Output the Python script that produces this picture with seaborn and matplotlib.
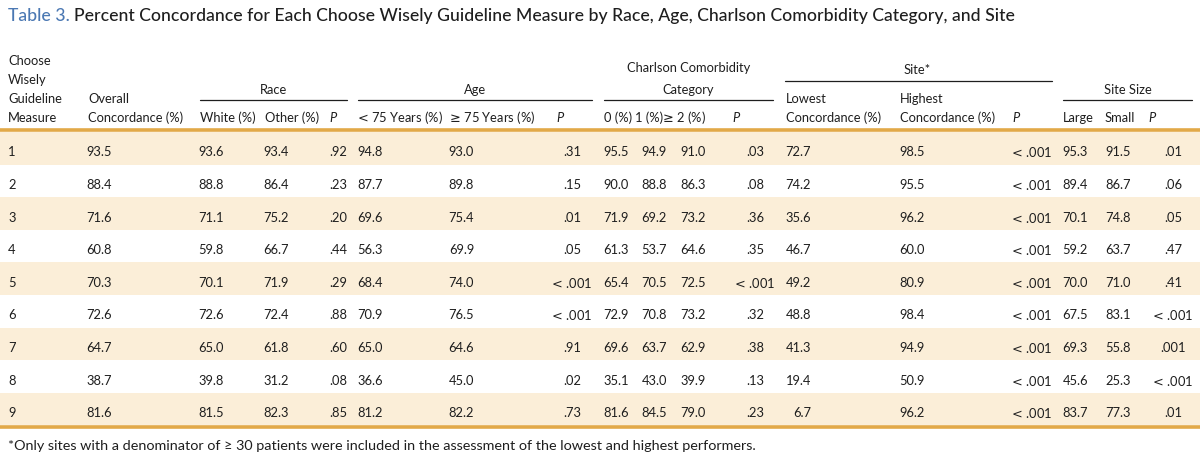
import matplotlib
matplotlib.use("Agg")
import matplotlib.pyplot as plt
import seaborn as sns
import numpy as np
from matplotlib.colors import ListedColormap

# table data
measures = ["1", "2", "3", "4", "5", "6", "7", "8", "9"]
overall = [93.5, 88.4, 71.6, 60.8, 70.3, 72.6, 64.7, 38.7, 81.6]
white = [93.6, 88.8, 71.1, 59.8, 70.1, 72.6, 65.0, 39.8, 81.5]
other = [93.4, 86.4, 75.2, 66.7, 71.9, 72.4, 61.8, 31.2, 82.3]
race_p = [".92", ".23", ".20", ".44", ".29", ".88", ".60", ".08", ".85"]
age_lt75 = [94.8, 87.7, 69.6, 56.3, 68.4, 70.9, 65.0, 36.6, 81.2]
age_ge75 = [93.0, 89.8, 75.4, 69.9, 74.0, 76.5, 64.6, 45.0, 82.2]
age_p = [".31", ".15", ".01", ".05", "< .001", "< .001", ".91", ".02", ".73"]
cci_0 = [95.5, 90.0, 71.9, 61.3, 65.4, 72.9, 69.6, 35.1, 81.6]
cci_1 = [94.9, 88.8, 69.2, 53.7, 70.5, 70.8, 63.7, 43.0, 84.5]
cci_2 = [91.0, 86.3, 73.2, 64.6, 72.5, 73.2, 62.9, 39.9, 79.0]
cci_p = [".03", ".08", ".36", ".35", "< .001", ".32", ".38", ".13", ".23"]
site_low = [72.7, 74.2, 35.6, 46.7, 49.2, 48.8, 41.3, 19.4, 6.7]
site_high = [98.5, 95.5, 96.2, 60.0, 80.9, 98.4, 94.9, 50.9, 96.2]
site_p = ["< .001"] * 9
size_large = [95.3, 89.4, 70.1, 59.2, 70.0, 67.5, 69.3, 45.6, 83.7]
size_small = [91.5, 86.7, 74.8, 63.7, 71.0, 83.1, 55.8, 25.3, 77.3]
size_p = [".01", ".06", ".05", ".47", ".41", "< .001", ".001", "< .001", ".01"]

title_label = "Table 3."
title_text = ("Percent Concordance for Each Choose Wisely Guideline Measure by Race, "
              "Age, Charlson Comorbidity Category, and Site")
footnote = ("*Only sites with a denominator of \u2265 30 patients were included in the "
            "assessment of the lowest and highest performers.")

sns.set_theme(style="white")
plt.rcParams["font.family"] = ["Lato", "DejaVu Sans"]
plt.rcParams["mathtext.fontset"] = "dejavusans"

W, H = 1200, 460
BEIGE = "#fbeed8"
GOLD = "#e2a948"
BLUE = "#4b78b3"
INK = "#1e1e1e"
FS = 9.3

fig = plt.figure(figsize=(12, 4.6), dpi=100)

# row shading via a one-column heatmap
band_top, band_bot = 133, 426.5
hax = fig.add_axes([0, 1 - band_bot / H, 1, (band_bot - band_top) / H])
stripes = np.array([[1 - i % 2] for i in range(len(measures))])
sns.heatmap(stripes, ax=hax, cmap=ListedColormap(["white", BEIGE]), cbar=False,
            xticklabels=False, yticklabels=False, vmin=0, vmax=1)
hax.set_axis_off()

ax = fig.add_axes([0, 0, 1, 1], facecolor="none")
ax.set_xlim(0, W)
ax.set_ylim(H, 0)
ax.set_axis_off()

# title
t = ax.text(8, 21, title_label + " ", color=BLUE, fontsize=12.7, fontweight="medium",
            va="baseline", ha="left")
fig.canvas.draw()
bb = t.get_window_extent()
ax.text(bb.x1, 21, title_text, color=INK, fontsize=12.7, fontweight="medium",
        va="baseline", ha="left")


def mathsym(s):
    # math-style relation signs, as typeset in the source table
    return (s.replace("< ", r"$\!\!<$" + "\u2009")
             .replace("\u2265 ", r"$\!\!\geq$" + "\u2009"))


def head(x, y, s, ha="left", **kw):
    ax.text(x, y, mathsym(s), fontsize=FS, color=INK, ha=ha, va="center", **kw)


for y, s in zip([61, 80, 99, 118], ["Choose", "Wisely", "Guideline", "Measure"]):
    head(8, y, s)
head(88, 99, "Overall")
head(88, 118, "Concordance (%)")

groups = [("Race", 273.5, 90, 200, 347, 101),
          ("Age", 475, 90, 358, 592, 101),
          ("Category", 688.5, 90, 604, 773, 101),
          ("Charlson Comorbidity", 688.5, 68, None, None, None),
          ("Site*", 917, 70, 785, 1052, 82),
          ("Site Size", 1127.5, 90, 1063, 1192, 101)]
for s, cx, y, x0, x1, ly in groups:
    head(cx, y, s, ha="center")
    if x0 is not None:
        ax.plot([x0, x1], [ly, ly], color=INK, lw=0.9)

head(786, 99, "Lowest")
head(786, 118, "Concordance (%)")
head(900, 99, "Highest")
head(900, 118, "Concordance (%)")

sub = [(358, "< 75 Years (%)"), (450, "\u2265 75 Years (%)"), (200, "White (%)"),
       (265, "Other (%)"), (604, "0 (%)"), (635, "1 (%)"),
       (663, "\u2265 2 (%)"), (1063, "Large"), (1105, "Small")]
for x, s in sub:
    head(x, 118, s)
for x in [329, 556, 732, 1012, 1148]:
    head(x, 118, "P", style="italic")

ax.plot([0, W], [131, 131], color=GOLD, lw=2.6, solid_capstyle="butt")
ax.plot([0, W], [427.5, 427.5], color=GOLD, lw=2.6, solid_capstyle="butt")

# body
num_cols = [(overall, 112), (white, 224), (other, 289), (age_lt75, 383),
            (age_ge75, 474), (cci_0, 629), (cci_1, 667), (cci_2, 706),
            (site_low, 811), (site_high, 925), (size_large, 1088), (size_small, 1131)]
p_cols = [(race_p, 338.5), (age_p, 572), (cci_p, 755), (site_p, 1032), (size_p, 1173)]

row_h = (band_bot - band_top) / len(measures)
for i, m in enumerate(measures):
    y = band_top + row_h * (i + 0.5) + 3
    ax.text(8, y, m, fontsize=FS, color=INK, ha="left", va="center")
    for vals, x in num_cols:
        ax.text(x, y, f"{vals[i]:.1f}", fontsize=FS, color=INK, ha="right", va="center")
    for vals, x in p_cols:
        ax.text(x, y, mathsym(vals[i]), fontsize=FS, color=INK, ha="center", va="center")

ax.text(8, 446, footnote, fontsize=10.4, color=INK, ha="left", va="center")

fig.savefig("out.png", dpi=100)
